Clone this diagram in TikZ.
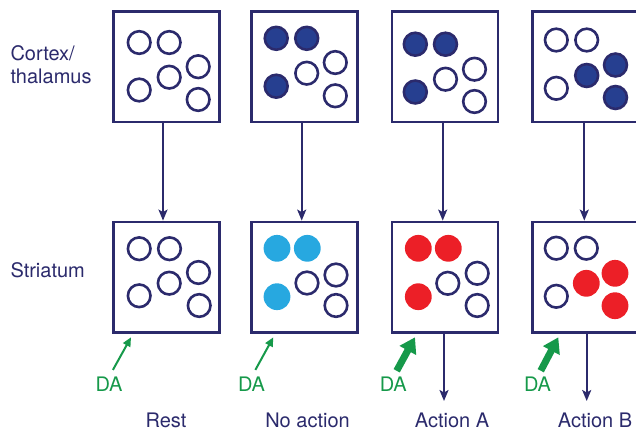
\documentclass[tikz,border=0pt]{standalone}
\usepackage{fontspec}
\setmainfont{TeX Gyre Heros}
\usetikzlibrary{arrows.meta}
\definecolor{navy}{HTML}{2B2A6C}
\definecolor{dkblue}{HTML}{263F90}
\definecolor{ltblue}{HTML}{27A8E0}
\definecolor{cred}{HTML}{EC1F27}
\definecolor{dagreen}{HTML}{16994A}
\tikzset{
  box/.style={draw=navy, line width=2.7pt, minimum width=106pt, minimum height=110.5pt, inner sep=0pt},
  oc/.style={circle, draw=navy, line width=2.6pt, minimum size=22.6pt, inner sep=0pt},
  fc/.style={circle, draw=navy, fill=dkblue, line width=2.6pt, minimum size=22.9pt, inner sep=0pt},
  lc/.style={circle, fill=ltblue, minimum size=26.8pt, inner sep=0pt},
  rc/.style={circle, fill=cred, minimum size=26.8pt, inner sep=0pt},
  lbl/.style={text=navy, font=\fontsize{20}{23.3}\selectfont, inner sep=0pt},
  dalbl/.style={text=dagreen, font=\fontsize{20}{23.3}\selectfont, inner sep=0pt},
  conn/.style={draw=navy, line width=2pt, -{Stealth[length=11pt,width=9pt,inset=2.5pt]}},
  thinda/.style={draw=dagreen, line width=2pt, -{Triangle[length=9pt,width=8pt]}},
  thickda/.style={draw=dagreen, line width=7pt, -{Triangle[length=15pt,width=18pt]}},
}
\begin{document}
\begin{tikzpicture}[x=1pt, y=-1pt]
\useasboundingbox (0,0) rectangle (636,431);
% labels
\node[lbl, anchor=base west, align=left] (ct) at (10.3,83.3) {Cortex/\\thalamus};
\node[lbl, anchor=base west] (st) at (10.3,277.3) {Striatum};
% top boxes
\node[box] (t1) at (166.3,66.7) {};
\node[box] (t2) at (304.7,66.7) {};
\node[box] (t3) at (445.0,66.7) {};
\node[box] (t4) at (585.3,66.7) {};
% bottom boxes
\node[box] (b1) at (166.3,277.2) {};
\node[box] (b2) at (304.7,277.2) {};
\node[box] (b3) at (445.0,277.2) {};
\node[box] (b4) at (585.3,277.2) {};
% top box 1 circles
\node[oc] (t1a) at (139.2,42.5) {};
\node[oc] (t1b) at (169.2,42.5) {};
\node[oc] (t1c) at (198.2,66.7) {};
\node[oc] (t1d) at (169.2,77.2) {};
\node[oc] (t1e) at (139.2,90.0) {};
\node[oc] (t1f) at (198.2,99.5) {};
% top box 2
\node[fc] (t2a) at (276.2,38.3) {};
\node[fc] (t2b) at (306.7,38.3) {};
\node[oc] (t2c) at (335.3,62.5) {};
\node[oc] (t2d) at (306.7,73.2) {};
\node[fc] (t2e) at (276.2,86.2) {};
\node[oc] (t2f) at (335.3,95.8) {};
% top box 3
\node[fc] (t3a) at (415.3,44.2) {};
\node[fc] (t3b) at (445.5,44.2) {};
\node[oc] (t3c) at (474.5,69.2) {};
\node[oc] (t3d) at (445.5,79.2) {};
\node[fc] (t3e) at (415.3,92.0) {};
\node[oc] (t3f) at (474.5,101.5) {};
% top box 4
\node[oc] (t4a) at (556.3,40.0) {};
\node[oc] (t4b) at (586.7,40.0) {};
\node[fc] (t4c) at (615.5,65.0) {};
\node[fc] (t4d) at (586.7,75.5) {};
\node[oc] (t4e) at (556.3,88.3) {};
\node[fc] (t4f) at (615.5,97.5) {};
% bottom box 1
\node[oc] (b1a) at (139.2,248.7) {};
\node[oc] (b1b) at (169.5,248.7) {};
\node[oc] (b1c) at (198.5,272.5) {};
\node[oc] (b1d) at (169.2,283.2) {};
\node[oc] (b1e) at (139.2,295.8) {};
\node[oc] (b1f) at (199.2,305.5) {};
% bottom box 2
\node[lc] (b2a) at (277.0,248.3) {};
\node[lc] (b2b) at (307.3,248.3) {};
\node[oc] (b2c) at (336.0,275.0) {};
\node[oc] (b2d) at (307.0,283.0) {};
\node[lc] (b2e) at (277.0,296.7) {};
\node[oc] (b2f) at (336.0,305.5) {};
% bottom box 3
\node[rc] (b3a) at (418.3,248.3) {};
\node[rc] (b3b) at (448.3,248.3) {};
\node[oc] (b3c) at (477.2,273.3) {};
\node[oc] (b3d) at (447.8,283.3) {};
\node[rc] (b3e) at (418.3,296.7) {};
\node[oc] (b3f) at (477.2,305.5) {};
% bottom box 4
\node[oc] (b4a) at (556.3,248.2) {};
\node[oc] (b4b) at (586.3,248.2) {};
\node[rc] (b4c) at (615.0,273.3) {};
\node[rc] (b4d) at (586.3,283.3) {};
\node[oc] (b4e) at (556.3,296.3) {};
\node[rc] (b4f) at (615.0,305.7) {};
% vertical connectors
\draw[conn] ([xshift=-3.3pt]t1.south) -- ([xshift=-3.3pt]b1.north);
\draw[conn] ([xshift=-3pt]t2.south) -- ([xshift=-3pt]b2.north);
\draw[conn] ([xshift=-2.3pt]t3.south) -- ([xshift=-2.3pt]b3.north);
\draw[conn] ([xshift=-1pt]t4.south) -- ([xshift=-1pt]b4.north);
% action outputs
\coordinate (oA) at (444,401);
\coordinate (oB) at (586.7,401);
\draw[conn] (b3.south -| oA) -- (oA);
\draw[conn] (b4.south -| oB) -- (oB);
% bottom labels
\node[lbl, anchor=base] (rest) at (166,427.3) {Rest};
\node[lbl, anchor=base] (noact) at (307.5,427.3) {No action};
\node[lbl, anchor=base] (actA) at (452,427.3) {Action A};
\node[lbl, anchor=base] (actB) at (595,427.3) {Action B};
% DA labels and arrows
\node[dalbl, anchor=base] (da1) at (109,391.7) {DA};
\node[dalbl, anchor=base] (da2) at (251.5,391.7) {DA};
\node[dalbl, anchor=base] (da3) at (393.3,391.7) {DA};
\node[dalbl, anchor=base] (da4) at (537.5,391.7) {DA};
\coordinate (p1) at (131,337.3);
\coordinate (p2) at (273.3,337.3);
\coordinate (p3) at (415,337.3);
\coordinate (p4) at (558.3,337.3);
\draw[thinda, shorten <=8pt] (da1.north) -- (p1);
\draw[thinda, shorten <=8pt] (da2.north) -- (p2);
\draw[thickda, shorten <=7pt] (da3.north) -- (p3);
\draw[thickda, shorten <=7pt] (da4.north) -- (p4);
\end{tikzpicture}
\end{document}
